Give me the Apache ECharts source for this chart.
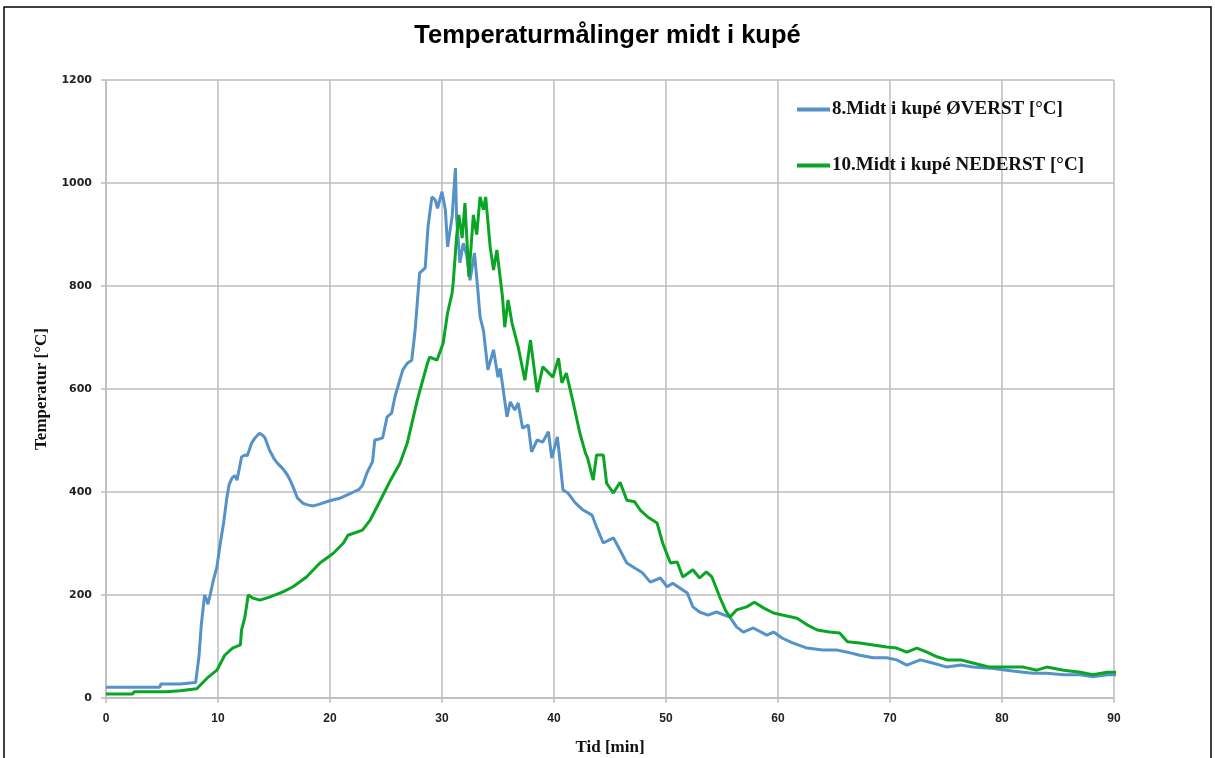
<!DOCTYPE html>
<html>
<head>
<meta charset="utf-8">
<script src="https://cdn.jsdelivr.net/npm/echarts@6/dist/echarts.min.js"></script>
<style>
  html, body { margin: 0; padding: 0; background: #fff; }
  #chart { width: 1215px; height: 758px; }
</style>
</head>
<body>
<div id="chart"></div>
<script>
// Verdiene er lest av bildet
const xTicks = [0, 10, 20, 30, 40, 50, 60, 70, 80, 90]
const yTicks = [0, 200, 400, 600, 800, 1000, 1200]

const nameTop = '8.Midt i kupé ØVERST [°C]'
const nameBottom = '10.Midt i kupé NEDERST [°C]'

// øverst (blå)
const timeTop = [0, 4.8, 4.9, 6.6, 6.7, 8.0, 8.1, 8.3, 8.5, 8.7, 8.8, 9.0, 9.1, 9.3, 9.6, 9.9, 10.2, 10.5,
  10.8, 11.0, 11.25, 11.5, 11.7, 11.9, 12.1, 12.4, 12.6, 12.8, 13.0, 13.3, 13.7, 14.0, 14.2, 14.6, 15.0, 15.3, 15.8, 16.2,
  16.5, 16.7, 17.1, 17.6, 18.0, 18.5, 19.0, 19.7, 20.3, 20.9, 21.5, 22.1, 22.6, 22.9, 23.3, 23.8, 24.0, 24.4, 24.7, 25.1,
  25.5, 25.8, 26.2, 26.5, 26.9, 27.3, 27.6, 28.0, 28.5, 28.75, 29.1, 29.4, 29.6, 30.0, 30.3, 30.5, 30.9, 31.2, 31.3, 31.6,
  31.9, 32.2, 32.5, 32.9, 33.2, 33.4, 33.7, 34.1, 34.6, 35.0, 35.2, 35.8, 36.1, 36.5, 36.8, 37.2, 37.7, 38.0, 38.5, 39.0,
  39.5, 39.8, 40.3, 40.5, 40.8, 41.25, 41.9, 42.6, 43.4, 43.8, 44.4, 45.3, 45.9, 46.5, 47.1, 47.9, 48.6, 49.5, 50.1, 50.6,
  51.9, 52.4, 53.0, 53.75, 54.5, 55.7, 56.3, 56.9, 57.8, 59.0, 59.6, 60.4, 61.3, 62.6, 64.0, 65.3, 66.2, 67.3, 68.5, 69.7,
  70.6, 71.5, 72.7, 73.8, 75.1, 76.3, 77.4, 78.9, 80.4, 81.9, 82.8, 84.0, 85.5, 87.0, 88.1, 89.4, 90.3]
const tempTop = [21, 21, 27, 27, 30, 30, 32, 80, 140, 180, 200, 190, 182, 200, 230, 254, 300, 340,
  390, 415, 427, 432, 423, 445, 468, 472, 470, 482, 495, 505, 514, 510, 505, 481, 465, 456, 445, 433,
  420, 410, 388, 378, 375, 373, 376, 381, 385, 388, 394, 400, 405, 413, 437, 459, 501, 503, 505, 546,
  553, 585, 615, 637, 650, 656, 714, 825, 835, 915, 973, 967, 951, 983, 948, 876, 934, 1029, 934, 845,
  883, 860, 811, 864, 792, 740, 714, 637, 676, 623, 640, 546, 575, 559, 573, 524, 530, 478, 501, 497,
  517, 466, 507, 468, 404, 398, 379, 365, 355, 332, 301, 311, 287, 262, 254, 243, 225, 233, 216, 223,
  204, 177, 167, 161, 167, 157, 138, 128, 136, 122, 128, 116, 107, 97, 93, 93, 89, 83, 78, 78,
  74, 64, 74, 68, 60, 64, 60, 58, 54, 50, 48, 48, 45, 45, 41, 45, 45]

// nederst (grønn)
const timeBottom = [0, 2.4, 2.5, 5.4, 5.5, 6.6, 6.7, 8.1, 9.0, 9.9, 10.6, 11.3, 12.0, 12.1, 12.4, 12.7, 13.1, 13.75, 14.6, 15.8, 16.7,
  17.9, 19.1, 20.3, 21.2, 21.6, 22.9, 23.6, 24.5, 25.4, 26.25, 26.9, 27.8, 28.7, 28.9, 29.55, 30.1, 30.5, 30.9, 31.0, 31.3,
  31.5, 31.8, 32.05, 32.4, 32.8, 33.1, 33.4, 33.7, 33.9, 34.3, 34.6, 34.9, 35.4, 35.6, 35.9, 36.25, 36.8, 37.4, 37.9, 38.5,
  39.0, 39.9, 40.4, 40.7, 41.1, 41.7, 42.3, 42.8, 43.0, 43.5, 43.8, 44.4, 44.7, 45.3, 45.9, 46.5, 47.2, 47.7, 48.4, 49.2,
  49.7, 50.4, 51.0, 51.5, 52.4, 53.0, 53.6, 54.1, 54.8, 55.3, 55.7, 56.3, 57.2, 57.9, 58.7, 59.6, 60.4, 61.7, 62.6, 63.5,
  64.6, 65.5, 66.2, 67.3, 68.5, 69.7, 70.6, 71.5, 72.4, 73.3, 74.2, 75.1, 76.3, 77.4, 78.9, 80.4, 81.9, 83.1, 84.0, 85.5,
  87.0, 88.1, 89.4, 90.3]
const tempBottom = [8, 8, 12, 12, 14, 14, 17, 18, 38, 54, 83, 97, 103, 132, 157, 200, 194, 190, 196, 206, 216,
  235, 262, 281, 301, 316, 326, 346, 384, 423, 456, 495, 579, 650, 662, 656, 689, 748, 786, 806, 895,
  938, 893, 961, 818, 938, 900, 973, 948, 973, 876, 831, 870, 779, 720, 773, 728, 682, 617, 695, 594,
  643, 623, 660, 612, 631, 575, 515, 476, 466, 423, 472, 472, 417, 398, 419, 384, 381, 365, 351, 340,
  301, 262, 264, 235, 249, 233, 245, 235, 196, 171, 157, 171, 177, 186, 175, 165, 161, 155, 142, 132,
  128, 126, 109, 107, 103, 99, 97, 89, 97, 89, 80, 74, 74, 68, 60, 60, 60, 54, 60, 54,
  50, 45, 50, 50]

function pairs(xs, ys) {
  return xs.map((x, i) => [x, ys[i]])
}

const serif = 'Liberation Serif'
const gridColor = '#bdbdbd'

const chart = echarts.init(document.getElementById('chart'))
chart.setOption({
  animation: false,
  backgroundColor: '#fff',
  title: {
    text: 'Temperaturmålinger midt i kupé',
    left: 'center',
    top: 18,
    textStyle: {
      fontFamily: 'Liberation Sans, sans-serif',
      fontWeight: 'bold',
      fontSize: 25.5,
      color: '#000'
    }
  },
  legend: {
    left: 792,
    top: 95,
    orient: 'vertical',
    itemGap: 37,
    itemWidth: 33,
    itemHeight: 4,
    icon: 'rect',
    textStyle: {
      fontFamily: serif,
      fontWeight: 'bold',
      fontSize: 19,
      color: '#111',
      padding: [0, 0, 0, -3]
    },
    data: [nameTop, nameBottom]
  },
  graphic: [{
    type: 'rect',
    shape: { x: 4, y: 7, width: 1207, height: 760 },
    style: { fill: 'none', stroke: '#000', lineWidth: 1.5 },
    silent: true
  }],
  grid: { left: 106, right: 101, top: 80, bottom: 60, outerBoundsMode: 'none', containLabel: false },
  xAxis: {
    type: 'value',
    min: xTicks[0],
    max: xTicks[xTicks.length - 1],
    interval: 10,
    name: 'Tid [min]',
    nameLocation: 'middle',
    nameGap: 41,
    nameTextStyle: { fontFamily: serif, fontWeight: 'bold', fontSize: 17, color: '#111' },
    axisLine: { lineStyle: { color: gridColor, width: 1.5 } },
    axisTick: { show: true, length: 5, lineStyle: { color: gridColor, width: 1.5 } },
    axisLabel: {
      margin: 15,
      fontFamily: 'Liberation Sans, sans-serif',
      fontWeight: 'bold',
      fontSize: 12,
      color: '#222'
    },
    splitLine: { show: true, lineStyle: { color: gridColor, width: 1.5 } }
  },
  yAxis: {
    type: 'value',
    min: yTicks[0],
    max: yTicks[yTicks.length - 1],
    interval: 200,
    name: 'Temperatur [°C]',
    nameLocation: 'middle',
    nameGap: 50,
    nameRotate: 90,
    nameTextStyle: { fontFamily: serif, fontWeight: 'bold', fontSize: 17, color: '#111' },
    axisLine: { show: true, lineStyle: { color: gridColor, width: 1.5 } },
    axisTick: { show: true, length: 5, lineStyle: { color: gridColor, width: 1.5 } },
    axisLabel: {
      margin: 14,
      fontFamily: 'DejaVu Sans',
      fontWeight: 'bold',
      fontSize: 11,
      color: '#222',
      formatter: v => String(v)
    },
    splitLine: { show: true, lineStyle: { color: gridColor, width: 1.5 } }
  },
  series: [
    {
      name: nameTop,
      type: 'line',
      data: pairs(timeTop, tempTop),
      showSymbol: false,
      symbol: 'none',
      clip: false,
      z: 3,
      color: '#5592c8',
      lineStyle: { color: '#5592c8', width: 3 }
    },
    {
      name: nameBottom,
      type: 'line',
      data: pairs(timeBottom, tempBottom),
      showSymbol: false,
      symbol: 'none',
      clip: false,
      z: 4,
      color: '#0ba526',
      lineStyle: { color: '#0ba526', width: 3 }
    }
  ]
})
</script>
</body>
</html>
